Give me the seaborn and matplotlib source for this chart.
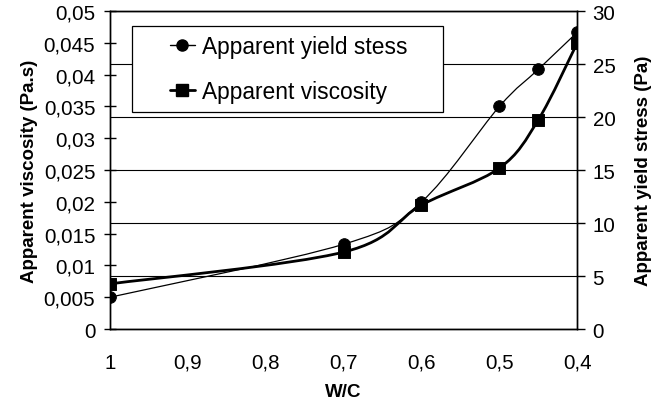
import numpy as np
import pandas as pd
import matplotlib
matplotlib.use("Agg")
import matplotlib.pyplot as plt
from matplotlib.path import Path
from matplotlib.patches import PathPatch, Rectangle
from matplotlib.lines import Line2D
from matplotlib.ticker import FuncFormatter, MultipleLocator
import seaborn as sns

# Measured data: water/cement ratio vs rheological parameters
wc = [1.0, 0.7, 0.6, 0.5, 0.45, 0.4]
yield_stress = [3.0, 8.0, 12.0, 21.0, 24.5, 28.0]          # Pa
viscosity = [0.0071, 0.0121, 0.0195, 0.0253, 0.0329, 0.0450]  # Pa.s

x_ticks = [1.0, 0.9, 0.8, 0.7, 0.6, 0.5, 0.4]
legend_labels = ["Apparent yield stess", "Apparent viscosity"]

sns.set_theme(style="white")
plt.rcParams["font.family"] = ["Liberation Sans", "DejaVu Sans"]
plt.rcParams["text.color"] = "black"
plt.rcParams["axes.labelcolor"] = "black"

fig = plt.figure(figsize=(6.62, 4.02), dpi=100)
ax1 = fig.add_axes([0.166, 0.179, 0.706, 0.791])
ax2 = ax1.twinx()
ax1.set_zorder(ax2.get_zorder() + 1)
ax1.patch.set_visible(False)


def smooth_path(xs, ys):
    """Cubic Bezier path through the points (Catmull-Rom style smoothing)."""
    pts = np.column_stack([xs, ys]).astype(float)
    n = len(pts)
    verts = [pts[0]]
    codes = [Path.MOVETO]
    for i in range(n - 1):
        p0 = pts[i - 1] if i > 0 else pts[i]
        p1 = pts[i]
        p2 = pts[i + 1]
        p3 = pts[i + 2] if i + 2 < n else pts[i + 1]
        c1 = p1 + (p2 - p0) / 6.0
        c2 = p2 - (p3 - p1) / 6.0
        verts += [c1, c2, p2]
        codes += [Path.CURVE4] * 3
    return Path(verts, codes)


df = pd.DataFrame({"wc": wc, "yield": yield_stress, "visc": viscosity})

# yield stress on the right axis: thin curve, round markers
ax2.add_patch(PathPatch(smooth_path(wc, yield_stress), fill=False,
                        edgecolor="black", lw=0.9, zorder=3))
sns.scatterplot(data=df, x="wc", y="yield", ax=ax2, marker="o", s=70,
                color="black", edgecolor="black", zorder=4, legend=False)

# viscosity on the left axis: thick curve, square markers
ax1.add_patch(PathPatch(smooth_path(wc, viscosity), fill=False,
                        edgecolor="black", lw=2.0, zorder=3))
sns.scatterplot(data=df, x="wc", y="visc", ax=ax1, marker="s", s=70,
                color="black", edgecolor="black", zorder=4, legend=False)

ax1.set_xlim(1.0, 0.4)
ax1.set_ylim(0, 0.05)
ax2.set_ylim(0, 30)

ax1.set_xticks(x_ticks)
ax1.yaxis.set_major_locator(MultipleLocator(0.005))
ax2.yaxis.set_major_locator(MultipleLocator(5))

comma = FuncFormatter(lambda v, p: ("%g" % round(v, 4)).replace(".", ","))
ax1.xaxis.set_major_formatter(comma)
ax1.yaxis.set_major_formatter(comma)
ax2.yaxis.set_major_formatter(comma)

ax2.grid(axis="y", color="black", lw=0.8)
ax2.grid(axis="x", visible=False)
ax1.grid(False)

for ax in (ax1, ax2):
    for s in ax.spines.values():
        s.set_color("black")
        s.set_linewidth(1.0)

ax1.tick_params(axis="y", which="major", direction="inout", length=9, width=1,
                colors="black", labelsize=14.8, pad=6)
ax1.tick_params(axis="x", which="major", direction="out", length=6, width=1,
                colors="black", labelsize=14.8, pad=11)
ax2.tick_params(axis="y", which="major", direction="out", length=6, width=1,
                colors="black", labelsize=14.8, pad=5)

ax1.set_xlabel("W/C", fontsize=13.5, fontweight="bold", labelpad=8)
ax1.set_ylabel("Apparent viscosity (Pa.s)", fontsize=13.5, fontweight="bold", labelpad=4)
ax2.set_ylabel("Apparent yield stress (Pa)", fontsize=13.5, fontweight="bold", labelpad=14)

# legend box, drawn as a white framed rectangle with the entries placed inside
ax1.add_patch(Rectangle((0.047, 0.682), 0.666, 0.271, transform=ax1.transAxes,
                        facecolor="white", edgecolor="black", lw=0.9, zorder=9))
handles = [
    Line2D([], [], color="black", lw=1.0, marker="o", markersize=8),
    Line2D([], [], color="black", lw=2.0, marker="s", markersize=8),
]
leg = ax1.legend(handles, legend_labels, loc="center left",
                 bbox_to_anchor=(0.128, 0.818), frameon=False,
                 fontsize=16.4, borderpad=0, labelspacing=0.95,
                 handlelength=1.1, handletextpad=0.3, borderaxespad=0)
leg.set_zorder(10)

fig.savefig("out.png", dpi=100, facecolor="white")
